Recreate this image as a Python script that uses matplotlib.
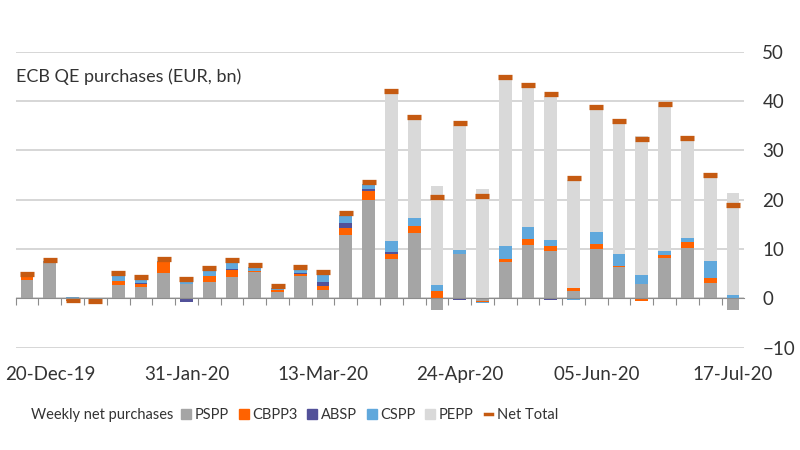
import numpy as np
import matplotlib
matplotlib.use('Agg')
import matplotlib.pyplot as plt
from matplotlib.lines import Line2D

plt.rcParams['font.family'] = ['Lato', 'DejaVu Sans']

weeks = ['13-Dec-19', '20-Dec-19', '27-Dec-19', '03-Jan-20', '10-Jan-20', '17-Jan-20',
         '24-Jan-20', '31-Jan-20', '07-Feb-20', '14-Feb-20', '21-Feb-20', '28-Feb-20',
         '06-Mar-20', '13-Mar-20', '20-Mar-20', '27-Mar-20', '03-Apr-20', '10-Apr-20',
         '17-Apr-20', '24-Apr-20', '01-May-20', '08-May-20', '15-May-20', '22-May-20',
         '29-May-20', '05-Jun-20', '12-Jun-20', '19-Jun-20', '26-Jun-20', '03-Jul-20',
         '10-Jul-20', '17-Jul-20']
shown_labels = ['20-Dec-19', '31-Jan-20', '13-Mar-20', '24-Apr-20', '05-Jun-20', '17-Jul-20']

pspp = [3.8, 7.3, -0.3, -0.3, 2.8, 2.4, 5.2, 3.0, 3.4, 4.4, 5.3, 1.2, 4.6, 1.6, 12.9, 20.0,
        8.0, 13.3, -2.3, 9.0, -0.5, 7.3, 10.9, 9.7, 1.4, 10.0, 6.4, 3.0, 8.1, 10.3, 3.2, -2.3]
cbpp3 = [0.6, -0.1, -0.2, -0.2, 0.8, 0.5, 2.2, -0.2, 1.1, 1.3, 0.2, 0.4, 0.4, 0.9, 1.3, 1.7,
         1.0, 1.3, 1.4, 0.0, -0.2, 0.7, 1.2, 0.9, 0.7, 1.1, 0.1, -0.5, 0.7, 1.2, 0.9, 0.1]
absp = [0.0, 0.1, 0.0, 0.0, -0.2, 0.2, -0.2, -0.5, 0.0, 0.2, -0.2, 0.1, 0.1, 0.9, 1.0, 0.5,
        0.5, 0.0, -0.1, -0.3, 0.0, 0.0, 0.0, -0.3, 0.0, 0.0, 0.0, -0.1, -0.1, 0.0, 0.0, -0.1]
cspp = [0.3, 0.2, 0.3, 0.0, 0.9, 0.8, 0.2, 0.7, 1.1, 1.3, 0.8, 0.4, 0.9, 1.5, 1.7, 0.9,
        2.2, 1.6, 1.4, 0.9, -0.3, 2.7, 2.3, 1.2, -0.4, 2.4, 2.5, 1.8, 0.9, 0.8, 3.4, 0.6]
pepp = [0, 0, 0, 0, 0, 0, 0, 0, 0, 0, 0, 0, 0, 0, 0, 0,
        29.9, 20.1, 20.0, 25.1, 22.1, 33.6, 28.4, 29.2, 21.8, 24.8, 26.6, 28.1, 30.0, 19.8, 17.2, 20.7]
net_total = [4.9, 7.7, -0.3, -0.5, 5.1, 4.4, 7.9, 4.0, 6.2, 7.7, 6.8, 2.5, 6.4, 5.3, 17.4, 23.6,
             42.0, 36.8, 20.6, 35.5, 20.7, 44.8, 43.3, 41.4, 24.3, 38.8, 36.0, 32.3, 39.4, 32.5, 25.0, 18.9]

series = [('PSPP', pspp, '#a5a5a5'),
          ('CBPP3', cbpp3, '#ff6200'),
          ('ABSP', absp, '#525199'),
          ('CSPP', cspp, '#60a8dc'),
          ('PEPP', pepp, '#d9d9d9')]
net_color = '#c55a11'
text_color = '#333333'

fig = plt.figure(figsize=(8, 4.5), dpi=100)
ax = fig.add_axes([0.0196, 0.2273, 0.9108, 0.6578])

x = np.arange(len(weeks))
pos_bottom = np.zeros(len(weeks))
neg_bottom = np.zeros(len(weeks))
for name, vals, col in series:
    v = np.array(vals, dtype=float)
    bottom = np.where(v >= 0, pos_bottom, neg_bottom)
    ax.bar(x, v, bottom=bottom, width=0.56, color=col, zorder=2)
    pos_bottom += np.where(v >= 0, v, 0)
    neg_bottom += np.where(v < 0, v, 0)

ax.plot(x, net_total, linestyle='none', marker='_', markersize=10,
        markeredgewidth=3.8, color=net_color, zorder=3)

ax.set_xlim(-0.5, len(weeks) - 0.5)
ax.set_ylim(-10, 50)
ax.set_yticks(np.arange(-10, 51, 10))
ax.yaxis.tick_right()
ax.tick_params(axis='y', length=0, pad=13, labelsize=13.5, labelcolor=text_color)
ax.grid(axis='y', color='#d0d0d0', linewidth=1.2, zorder=0)
ax.set_axisbelow(True)
for s in ['top', 'left', 'right']:
    ax.spines[s].set_visible(False)

# zero axis line with category separators
ax.spines['bottom'].set_position(('data', 0))
ax.spines['bottom'].set_color('#8c8c8c')
ax.spines['bottom'].set_zorder(4)
ax.set_xticks(x - 0.5, minor=False)
ax.tick_params(axis='x', length=5, color='#8c8c8c', labelbottom=False, direction='out')

sec = ax.secondary_xaxis('bottom')
sec.set_xticks([weeks.index(w) for w in shown_labels])
sec.set_xticklabels(shown_labels)
sec.tick_params(length=0, pad=13, labelsize=13.5, labelcolor=text_color)
sec.spines['bottom'].set_visible(False)

ax.text(0.0, 0.915, 'ECB QE purchases (EUR, bn)', transform=ax.transAxes,
        fontsize=13, color=text_color, va='center', ha='left')

handles = [Line2D([], [], linestyle='none', marker='s', markersize=6.5, color=c)
           for _, _, c in series]
handles.append(Line2D([], [], color=net_color, linewidth=2.5))
labels = [n for n, _, _ in series] + ['Net Total']
fig.text(0.039, 0.077, 'Weekly net purchases', fontsize=10.5, color=text_color,
         va='center', ha='left')
fig.legend(handles, labels, loc='center left', bbox_to_anchor=(0.228, 0.077), ncol=6,
           frameon=False, fontsize=10.5, labelcolor=text_color,
           handlelength=0.5, handletextpad=0.35, columnspacing=0.75, borderaxespad=0,
           borderpad=0)

fig.savefig('out.png', dpi=100)
